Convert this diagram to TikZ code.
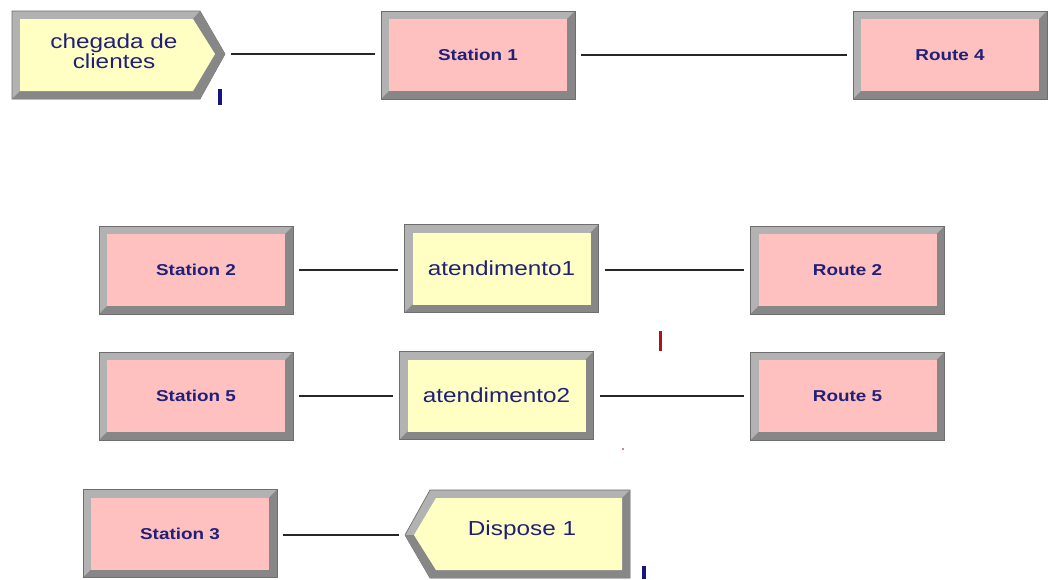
\documentclass[tikz,border=0pt]{standalone}
\usepackage{fontspec}
\newfontfamily\arenafont[FakeStretch=1.2]{Liberation Sans}
\definecolor{pinkface}{RGB}{255,192,192}
\definecolor{yellowface}{RGB}{255,255,196}
\definecolor{bevlight}{RGB}{178,178,178}
\definecolor{bevdark}{RGB}{135,135,135}
\definecolor{bevedge}{RGB}{110,110,110}
\definecolor{labelblue}{RGB}{32,32,120}
\definecolor{markblue}{RGB}{20,20,130}
\definecolor{markred}{RGB}{170,20,30}
\tikzset{
  bevbox/.style={rectangle, inner sep=0pt, minimum width=145.5pt, minimum height=66pt,
    draw=bevedge, line width=0.5pt, fill=bevlight,
    path picture={
      \fill[bevdark] (path picture bounding box.south east) -- (path picture bounding box.north east)
        -- ([shift={(-6pt,-6pt)}]path picture bounding box.north east)
        -- ([shift={(-6pt,6pt)}]path picture bounding box.south east)
        -- ([shift={(6pt,6pt)}]path picture bounding box.south west)
        -- (path picture bounding box.south west) -- cycle;
      \fill[#1] ([shift={(6pt,-6pt)}]path picture bounding box.north west)
        rectangle ([shift={(-6pt,6pt)}]path picture bounding box.south east);
    }},
  stationbox/.style={bevbox=pinkface, font=\arenafont\bfseries\fontsize{11.8}{13}\selectfont, text=labelblue},
  procbox/.style={bevbox=yellowface, font=\arenafont\fontsize{15.2}{16}\selectfont, text=labelblue},
  lbl/.style={font=\arenafont\fontsize{15.2}{13.5}\selectfont, text=labelblue, align=center, inner sep=0pt},
  conn/.style={draw=black!85, line width=1.1pt, shorten <=4.5pt, shorten >=4.5pt}
}
\begin{document}
\begin{tikzpicture}[x=0.75pt,y=-0.75pt]
\useasboundingbox[fill=white] (0,0) rectangle (1050,579);

% Create module
\fill[bevlight, draw=bevedge, line width=0.5pt] (12,11) -- (200,11) -- (225,54) -- (200,99) -- (12,99) -- cycle;
\fill[bevdark] (200,11) -- (225,54) -- (200,99) -- (12,99) -- (20,91) -- (193,91) -- (215,54) -- (193,19) -- cycle;
\fill[yellowface] (20,19) -- (193,19) -- (215,54) -- (193,91) -- (20,91) -- cycle;
\node[lbl] (create) at (114,51) {chegada de\\clientes};
\coordinate (createtip) at (225,54);
\fill[markblue] (218,89) rectangle (222,105);

% Row 1
\node[stationbox] (s1) at (478,55) {Station 1};
\node[stationbox] (r4) at (950,55) {Route 4};

% Row 2
\node[stationbox] (s2) at (196,270) {Station 2};
\node[procbox] (a1) at (501.5,268.5) {atendimento1};
\node[stationbox] (r2) at (847.5,270) {Route 2};
\fill[markred] (658.5,331) rectangle (661.5,351);

% Row 3
\node[stationbox] (s5) at (196,396) {Station 5};
\node[procbox] (a2) at (496.5,395.5) {atendimento2};
\node[stationbox] (r5) at (847.5,396) {Route 5};
\fill[markred!70] (623,449) circle (1.2);

% Row 4
\node[stationbox] (s3) at (180,533.5) {Station 3};
\fill[bevlight, draw=bevedge, line width=0.5pt] (405,535) -- (430,490) -- (630,490) -- (630,578) -- (430,578) -- cycle;
\fill[bevdark] (405,535) -- (414,535) -- (436,570) -- (622,570) -- (622,498) -- (630,490) -- (630,578) -- (430,578) -- cycle;
\fill[yellowface] (414,535) -- (436,498) -- (622,498) -- (622,570) -- (436,570) -- cycle;
\node[lbl] (disp) at (522,530) {Dispose 1};
\coordinate (disptip) at (405,535);
\fill[markblue] (642,566) rectangle (646,579);

% Connectors
\draw[conn] (createtip) -- (s1.west |- createtip);
\draw[conn] (s1.east) -- (r4.west);
\draw[conn] (s2.east) -- (a1.west |- s2.east);
\draw[conn] (a1.east |- r2.west) -- (r2.west);
\draw[conn] (s5.east) -- (a2.west |- s5.east);
\draw[conn] (a2.east |- r5.west) -- (r5.west);
\draw[conn] (s3.east |- disptip) -- (disptip);
\end{tikzpicture}
\end{document}
